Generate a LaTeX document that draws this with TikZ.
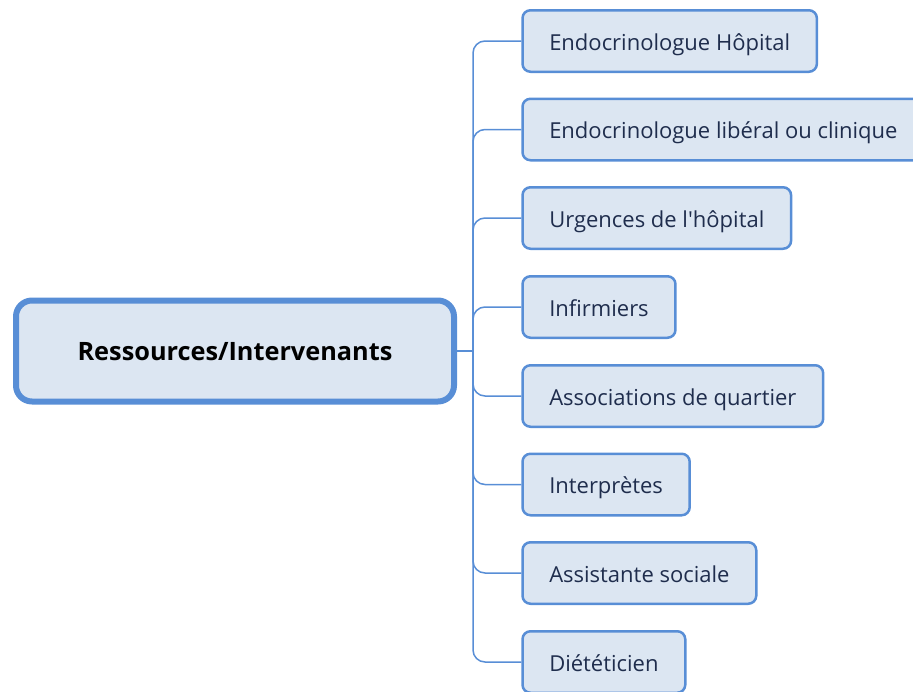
\documentclass[tikz,border=0pt]{standalone}
\usepackage{fontspec}
\setmainfont{Open Sans}
\usepackage{tikz}
\usepackage{xcolor}
\definecolor{boxline}{RGB}{88,142,214}
\definecolor{boxfill}{RGB}{220,230,242}
\definecolor{boxtext}{RGB}{31,45,77}

\begin{document}
\begin{tikzpicture}[x=1pt,y=-1pt,
  rootbox/.style={draw=boxline,fill=boxfill,line width=6pt,rounded corners=16pt,
    minimum width=438pt,minimum height=101pt,text height=19pt,text depth=1pt,
    font=\fontsize{25.3}{30}\selectfont\bfseries,text=black},
  leafbox/.style={draw=boxline,fill=boxfill,line width=2.5pt,rounded corners=8pt,
    anchor=west,inner xsep=26.75pt,minimum height=61.5pt,text height=19pt,text depth=0.4pt,
    font=\fontsize{22}{26}\selectfont,text=boxtext},
  branch/.style={draw=boxline,line width=1.5pt,rounded corners=12pt}]
\useasboundingbox (0,0) rectangle (913,691);
\clip (0,0) rectangle (913,691);
\node[rootbox] (root) at (235,351) {Ressources/Intervenants};
\coordinate (jn) at (473,351);
\node[leafbox] (endohop) at (521.25,41) {Endocrinologue Hôpital};
\node[leafbox] (endolib) at (521.25,129.5) {Endocrinologue libéral ou clinique};
\node[leafbox] (urgences) at (521.25,218) {Urgences de l\textquotesingle hôpital};
\node[leafbox] (infirmiers) at (521.25,307) {Infirmiers};
\node[leafbox] (assoc) at (521.25,396) {Associations de quartier};
\node[leafbox] (interpretes) at (521.25,484.5) {Interprètes};
\node[leafbox] (social) at (521.25,573) {Assistante sociale};
\node[leafbox] (dieteticien) at (521.25,662) {Diététicien};
\draw[branch] (root.east) -- (jn);
\foreach \leaf in {endohop,endolib,urgences,infirmiers,assoc,interpretes,social,dieteticien}
  \draw[branch] (jn) |- (\leaf.west);
\end{tikzpicture}
\end{document}
